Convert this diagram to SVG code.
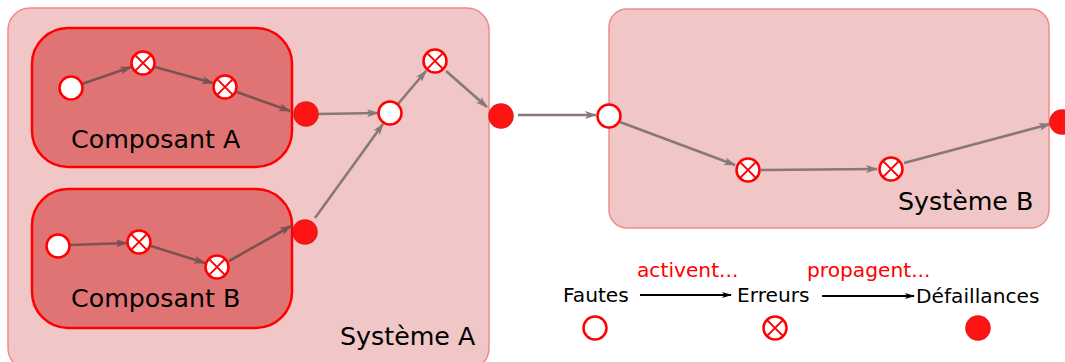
<svg xmlns="http://www.w3.org/2000/svg" width="1065" height="362" viewBox="0 0 1065 362">
<defs>
<style>
.sys{fill:#f1c6c7;stroke:#f08a8a;stroke-width:1.5}
.comp{fill:#e07474;stroke:#ff0000;stroke-width:2.5}
.lbl{font-family:"DejaVu Sans",sans-serif;font-size:25.3px;fill:#000}
.leg{font-family:"DejaVu Sans",sans-serif;font-size:20.2px;fill:#000}
.red{fill:#ff0000}
.fault{fill:#fff;stroke:#ff0000;stroke-width:2.5}
.fail{fill:#ff1414;stroke:#e81818;stroke-width:1.5}
.ci{stroke:#7b5252;stroke-width:2.6;fill:none}
.co{stroke:#887878;stroke-width:2.6;fill:none}
.cl{stroke:#000;stroke-width:1.8;fill:none}
</style>
<marker id="ai" viewBox="0 0 12 8" refX="11" refY="4" markerWidth="12" markerHeight="8" markerUnits="userSpaceOnUse" orient="auto"><path d="M0,0 L12,4 L0,8 L3,4 z" fill="#7b5252"/></marker>
<marker id="ao" viewBox="0 0 12 8" refX="11" refY="4" markerWidth="12" markerHeight="8" markerUnits="userSpaceOnUse" orient="auto"><path d="M0,0 L12,4 L0,8 L3,4 z" fill="#887878"/></marker>
<marker id="al" viewBox="0 0 10 6" refX="9" refY="3" markerWidth="10" markerHeight="6" markerUnits="userSpaceOnUse" orient="auto"><path d="M0,0 L10,3 L0,6 L2.5,3 z" fill="#000"/></marker>
<g id="errsym"><circle r="11.5" fill="#fff" stroke="#ff0000" stroke-width="2.5"/><path d="M-8.1,-8.1 L8.1,8.1 M-8.1,8.1 L8.1,-8.1" stroke="#ff0000" stroke-width="2" fill="none"/></g>
</defs>

<g id="systeme-a">
<rect class="sys" x="8" y="8" width="481" height="362" rx="22"/>
<text class="lbl" x="340" y="345">Système A</text>
</g>
<g id="systeme-b">
<rect class="sys" x="609" y="9" width="440" height="219" rx="18"/>
<text class="lbl" x="898" y="210">Système B</text>
</g>
<g id="composant-a">
<rect class="comp" x="32" y="28" width="260" height="139" rx="36"/>
<text class="lbl" x="71" y="148">Composant A</text>
</g>
<g id="composant-b">
<rect class="comp" x="32" y="189" width="260" height="139" rx="36"/>
<text class="lbl" x="71" y="307">Composant B</text>
</g>

<g id="connectors">
<path class="ci" d="M82,84 L131,67" marker-end="url(#ai)"/>
<path class="ci" d="M155,67 L213,83" marker-end="url(#ai)"/>
<path class="ci" d="M237,92 L290,111" marker-end="url(#ai)"/>
<path class="ci" d="M70,245 L127,243" marker-end="url(#ai)"/>
<path class="ci" d="M151,246 L205,263" marker-end="url(#ai)"/>
<path class="ci" d="M229,261 L291,226" marker-end="url(#ai)"/>
<path class="co" d="M318,114 L378,113" marker-end="url(#ao)"/>
<path class="co" d="M315,218 L383,124" marker-end="url(#ao)"/>
<path class="co" d="M398,104 L426,71" marker-end="url(#ao)"/>
<path class="co" d="M446,71 L487,107" marker-end="url(#ao)"/>
<path class="co" d="M518,115 L596,115" marker-end="url(#ao)"/>
<path class="co" d="M620,122 L735,165" marker-end="url(#ao)"/>
<path class="co" d="M761,170 L877,169" marker-end="url(#ao)"/>
<path class="co" d="M904,163 L1050,124" marker-end="url(#ao)"/>
<path class="cl" d="M640,295 L731,295" marker-end="url(#al)"/>
<path class="cl" d="M822,296 L914,296" marker-end="url(#al)"/>
</g>

<g id="a-faute"><circle class="fault" cx="71" cy="88" r="11.5"/></g>
<g id="a-err1"><use href="#errsym" x="143" y="63"/></g>
<g id="a-err2"><use href="#errsym" x="225" y="87"/></g>
<g id="a-def"><circle class="fail" cx="306" cy="114" r="12"/></g>
<g id="b-faute"><circle class="fault" cx="58" cy="246" r="11.5"/></g>
<g id="b-err1"><use href="#errsym" x="139" y="242"/></g>
<g id="b-err2"><use href="#errsym" x="217" y="267"/></g>
<g id="b-def"><circle class="fail" cx="305" cy="232" r="12"/></g>
<g id="sa-faute"><circle class="fault" cx="390" cy="113" r="11.5"/></g>
<g id="sa-err"><use href="#errsym" x="435" y="61"/></g>
<g id="sa-def"><circle class="fail" cx="501" cy="116" r="12"/></g>
<g id="sb-faute"><circle class="fault" cx="609" cy="116" r="11.5"/></g>
<g id="sb-err1"><use href="#errsym" x="748" y="170"/></g>
<g id="sb-err2"><use href="#errsym" x="891" y="169"/></g>
<g id="sb-def"><circle class="fail" cx="1062" cy="122" r="12"/></g>

<g id="legende">
<text class="leg" x="563" y="302">Fautes</text>
<text class="leg" x="737" y="302">Erreurs</text>
<text class="leg" x="916" y="303">Défaillances</text>
<text class="leg red" x="637" y="277">activent...</text>
<text class="leg red" x="807" y="277">propagent...</text>
<circle class="fault" cx="595" cy="328" r="11.5"/>
<use href="#errsym" x="775" y="328"/>
<circle class="fail" cx="978" cy="328" r="12"/>
</g>
</svg>
